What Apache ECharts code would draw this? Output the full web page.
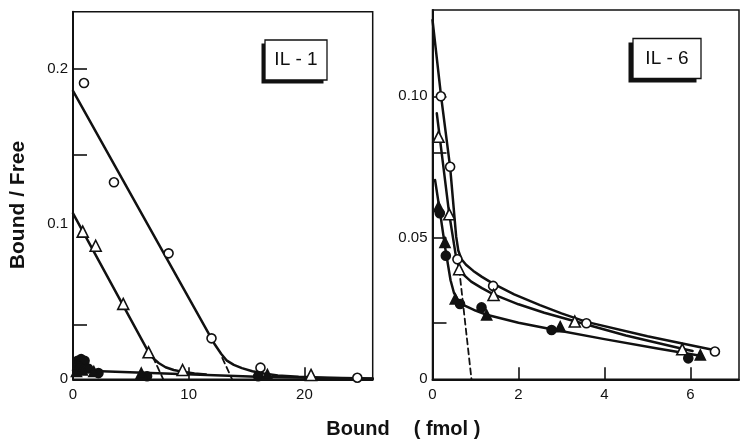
<!DOCTYPE html>
<html>
<head>
<meta charset="utf-8">
<script src="https://cdn.jsdelivr.net/npm/echarts@6/dist/echarts.min.js"></script>
<style>
html,body{margin:0;padding:0;background:#fff;}
#chart{width:750px;height:447px;}
</style>
</head>
<body>
<div id="chart"></div>
<script>
// ---------- IL-1 panel data ----------
const il1OpenCircles   = [[0.95,0.191],[3.54,0.127],[8.26,0.0812],[11.97,0.0264],[16.2,0.0075],[24.57,0.001]];
const il1OpenTriangles = [[0.84,0.0952],[1.96,0.0861],[4.34,0.0486],[6.53,0.0174],[9.47,0.006],[20.57,0.0028]];
const il1FilledCircles = [[0.4,0.012],[0.7,0.013],[1.0,0.012],[0.5,0.008],[1.3,0.007],[2.2,0.004],[6.4,0.002],[16.0,0.002]];
const il1FilledTriangles = [[0.3,0.005],[0.8,0.006],[1.8,0.005],[5.9,0.004],[16.8,0.003]];
const il1CircleFit   = [[0,0.186],[12.2,0.0231],[12.8,0.0165],[13.3,0.012],[13.9,0.0093],[14.6,0.0072],[15.5,0.0052],[16.5,0.0037],[17.7,0.0025],[19.5,0.0016],[22,0.001],[25.9,0.0005]];
const il1TriangleFit = [[0,0.107],[6.4,0.0193],[6.9,0.0138],[7.4,0.0105],[8.0,0.0078],[8.7,0.006],[9.5,0.0048],[10.5,0.0038],[11.5,0.0031]];
const il1FilledFit   = [[0,0.0058],[16.5,0.0015],[25.9,0.0004]];
const il1CircleDash   = [[12.9,0.0138],[13.75,0]];
const il1TriangleDash = [[6.9,0.0145],[7.8,0]];
const il1XLabels = [0,10,20];
const il1XTicks  = [10,20];
const il1YLabels = [0,0.1,0.2];
const il1YTicks  = [0.035,0.145,0.2];

// ---------- IL-6 panel data ----------
const il6OpenCircles   = [[0.195,0.100],[0.41,0.0751],[0.58,0.0424],[1.41,0.033],[3.58,0.0198],[6.57,0.0098]];
const il6OpenTriangles = [[0.14,0.0857],[0.39,0.0583],[0.62,0.0389],[1.42,0.0298],[3.31,0.0204],[5.81,0.0106]];
const il6FilledCircles = [[0.17,0.0587],[0.31,0.0437],[0.64,0.0266],[1.14,0.0254],[2.77,0.0174],[5.95,0.0074]];
const il6FilledTriangles = [[0.14,0.061],[0.29,0.0484],[0.53,0.0284],[1.26,0.0227],[2.97,0.0186],[6.23,0.0086]];
const il6CircleFit   = [[0,0.127],[0.2,0.1],[0.41,0.075],[0.55,0.0505],[0.6,0.0455],[0.67,0.0425],[0.78,0.0405],[0.95,0.0383],[1.15,0.0362],[1.41,0.0338],[1.9,0.030],[2.5,0.0262],[3.0,0.0233],[3.58,0.0203],[5.0,0.0152],[6.57,0.0103]];
const il6TriangleFit = [[0.1,0.094],[0.39,0.0583],[0.55,0.043],[0.62,0.0395],[0.72,0.037],[0.9,0.0345],[1.15,0.0322],[1.42,0.030],[2.0,0.0265],[2.6,0.0235],[3.31,0.0205],[4.5,0.0155],[5.81,0.0108],[6.05,0.0100]];
const il6FilledFit   = [[0.06,0.0704],[0.17,0.0595],[0.3,0.046],[0.42,0.035],[0.5,0.0305],[0.6,0.0278],[0.75,0.026],[1.0,0.0243],[1.26,0.0228],[2.0,0.0200],[2.77,0.0177],[4.0,0.0142],[5.2,0.0110],[6.23,0.0083]];
const il6Dash = [[0.62,0.039],[0.907,0]];
const il6XLabels = [0,2,4,6];
const il6XTicks  = [2,4,6];
const il6YLabels = [0,0.05,0.10];
const il6YTicks  = [0.02,0.05,0.08,0.10];

const FONT = 'Liberation Sans';
const INK = '#111';

function xAxis(gi, max, interval, labels, ticks){
  return {
    type:'value', gridIndex:gi, min:0, max:max, interval:interval,
    axisLine:{show:true, onZero:false, lineStyle:{color:INK, width:2}},
    axisTick:{show:true, inside:true, length:12, lineStyle:{color:INK, width:1.6}, customValues:ticks},
    axisLabel:{show:true, color:INK, fontFamily:FONT, fontSize:15, margin:8, customValues:labels,
      formatter:function(v){ return labels.indexOf(v) >= 0 ? String(v) : ''; }},
    splitLine:{show:false}
  };
}
function yAxis(gi, max, interval, labels, ticks, texts){
  return {
    type:'value', gridIndex:gi, min:0, max:max, interval:interval,
    axisLine:{show:true, onZero:false, lineStyle:{color:INK, width:2}},
    axisTick:{show:true, inside:true, length:14, lineStyle:{color:INK, width:1.6}, customValues:ticks},
    axisLabel:{show:true, color:INK, fontFamily:FONT, fontSize:15, margin:5, customValues:labels,
      formatter:function(v){
        for (let i=0;i<labels.length;i++){ if (Math.abs(labels[i]-v)<1e-6) return texts[i]; }
        return '';
      }},
    splitLine:{show:false}
  };
}

function pts(data, gi, symbol, filled, size){
  return {
    type:'scatter', xAxisIndex:gi, yAxisIndex:gi, data:data, symbol:symbol, symbolSize:size, z:5,
    itemStyle:{color: filled ? INK : '#fff', borderColor:INK, borderWidth:1.6, opacity:1}
  };
}
function fit(data, gi, dashed){
  return {
    type:'line', xAxisIndex:gi, yAxisIndex:gi, data:data, symbol:'none', z:3, smooth:false,
    lineStyle:{color:INK, width: dashed ? 1.8 : 2.5, type: dashed ? [6,4] : 'solid', cap:'round', join:'round'}
  };
}

const chart = echarts.init(document.getElementById('chart'), null, {renderer:'canvas'});
chart.setOption({
  animation:false,
  backgroundColor:'#fff',
  grid:[
    {left:73, top:11.7, width:299.7, height:367.6, show:true, borderColor:INK, borderWidth:1.5, containLabel:false},
    {left:432.5, top:10, width:306.5, height:369.3, show:true, borderColor:INK, borderWidth:1.5, containLabel:false}
  ],
  xAxis:[
    xAxis(0, 25.9, 10, il1XLabels, il1XTicks),
    xAxis(1, 7.13, 2, il6XLabels, il6XTicks)
  ],
  yAxis:[
    yAxis(0, 0.237, 0.05, il1YLabels, il1YTicks, ['0','0.1','0.2']),
    yAxis(1, 0.1305, 0.05, il6YLabels, il6YTicks, ['0','0.05','0.10'])
  ],
  series:[
    fit(il1CircleFit,0,false), fit(il1TriangleFit,0,false), fit(il1FilledFit,0,false),
    fit(il1CircleDash,0,true), fit(il1TriangleDash,0,true),
    pts(il1OpenCircles,0,'circle',false,9),
    pts(il1OpenTriangles,0,'triangle',false,11),
    pts(il1FilledCircles,0,'circle',true,9),
    pts(il1FilledTriangles,0,'triangle',true,10),

    fit(il6CircleFit,1,false), fit(il6TriangleFit,1,false), fit(il6FilledFit,1,false),
    fit(il6Dash,1,true),
    pts(il6OpenCircles,1,'circle',false,9),
    pts(il6OpenTriangles,1,'triangle',false,11),
    pts(il6FilledCircles,1,'circle',true,9),
    pts(il6FilledTriangles,1,'triangle',true,10)
  ],
  graphic:[
    {type:'text', x:18, y:205, rotation:Math.PI/2, z:10,
     style:{text:'Bound / Free', fontFamily:FONT, fontSize:21, fontWeight:'bold', fill:INK, textAlign:'center', textVerticalAlign:'middle'}},
    {type:'text', x:358, y:429, z:10,
     style:{text:'Bound', fontFamily:FONT, fontSize:20, fontWeight:'bold', fill:INK, textAlign:'center', textVerticalAlign:'middle'}},
    {type:'text', x:447, y:429, z:10,
     style:{text:'( fmol )', fontFamily:FONT, fontSize:20, fontWeight:'bold', fill:INK, textAlign:'center', textVerticalAlign:'middle'}},
    // IL-1 label box
    {type:'rect', shape:{x:261.5, y:43.5, width:62, height:40}, style:{fill:INK}, z:10},
    {type:'rect', shape:{x:265, y:40, width:62, height:40}, style:{fill:'#fff', stroke:INK, lineWidth:1.3}, z:11},
    {type:'text', x:296, y:60, z:12,
     style:{text:'IL - 1', fontFamily:FONT, fontSize:19, fill:INK, textAlign:'center', textVerticalAlign:'middle'}},
    // IL-6 label box
    {type:'rect', shape:{x:628.5, y:42.5, width:68, height:40}, style:{fill:INK}, z:10},
    {type:'rect', shape:{x:633, y:38.5, width:68, height:40}, style:{fill:'#fff', stroke:INK, lineWidth:1.3}, z:11},
    {type:'text', x:667, y:58.5, z:12,
     style:{text:'IL - 6', fontFamily:FONT, fontSize:19, fill:INK, textAlign:'center', textVerticalAlign:'middle'}}
  ]
});
</script>
</body>
</html>
